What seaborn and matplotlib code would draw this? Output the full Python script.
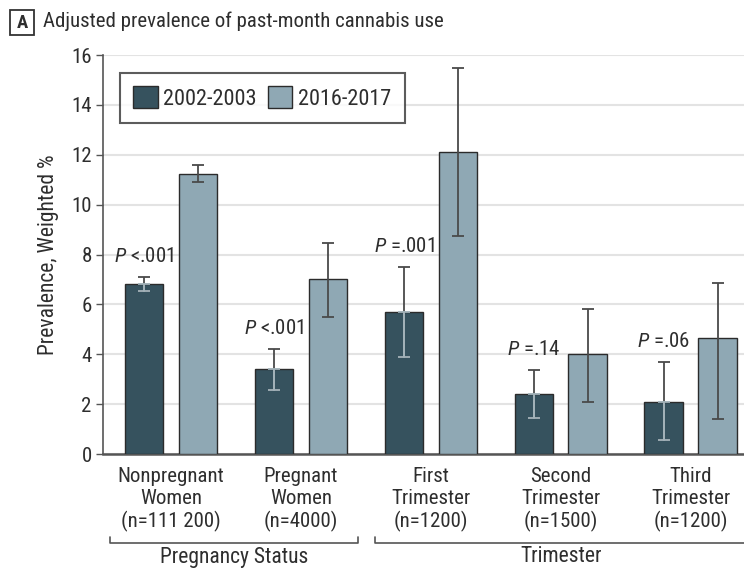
import pandas as pd
import seaborn as sns
import matplotlib.pyplot as plt
from matplotlib.patches import Rectangle

# Data
groups = ['Nonpregnant\nWomen\n(n=111 200)', 'Pregnant\nWomen\n(n=4000)',
          'First\nTrimester\n(n=1200)', 'Second\nTrimester\n(n=1500)',
          'Third\nTrimester\n(n=1200)']
periods = ['2002-2003', '2016-2017']
prev_2002 = [6.8, 3.4, 5.7, 2.4, 2.1]
lo_2002 = [6.55, 2.55, 3.9, 1.45, 0.55]
hi_2002 = [7.1, 4.2, 7.5, 3.35, 3.7]
prev_2016 = [11.25, 7.0, 12.1, 4.0, 4.65]
lo_2016 = [10.9, 5.5, 8.75, 2.1, 1.4]
hi_2016 = [11.6, 8.45, 15.5, 5.8, 6.85]
p_labels = ['<.001', '<.001', '=.001', '=.14', '=.06']
sections = ['Pregnancy Status', 'Trimester']

dark = '#36525e'
light = '#8fa8b4'
text_col = '#2e2e2e'

sns.set_style('white')
plt.rcParams['font.family'] = ['Roboto Condensed', 'Liberation Sans Narrow', 'Lato', 'DejaVu Sans']
plt.rcParams['mathtext.fontset'] = 'custom'
plt.rcParams['mathtext.it'] = 'Roboto Condensed:italic'
plt.rcParams['mathtext.rm'] = 'Roboto Condensed'

df = pd.DataFrame({
    'group': groups * 2,
    'period': [periods[0]] * 5 + [periods[1]] * 5,
    'value': prev_2002 + prev_2016,
})

fig = plt.figure(figsize=(7.44, 5.68), dpi=100)
ax = fig.add_axes([0.1384, 0.2007, 0.8616, 0.7023])

sns.barplot(data=df, x='group', y='value', hue='period', palette=[dark, light],
            saturation=1, width=0.83, gap=0.285, errorbar=None, edgecolor='#2b2b2b',
            linewidth=1.0, ax=ax, zorder=3)

# error bars
cap = 4.5
for i, (vals, los, his) in enumerate([(prev_2002, lo_2002, hi_2002),
                                       (prev_2016, lo_2016, hi_2016)]):
    bars = ax.containers[i]
    for bar, v, lo, hi in zip(bars, vals, los, his):
        xc = bar.get_x() + bar.get_width() / 2
        ax.errorbar(xc, v, yerr=[[v - lo], [hi - v]], fmt='none', ecolor='#4a4a4a',
                    elinewidth=1.3, capsize=cap, capthick=1.3, zorder=4)
        if i == 0:
            # portion inside the dark bar is drawn lighter
            ax.errorbar(xc, v, yerr=[[v - lo], [0]], fmt='none', ecolor='#a3b3ba',
                        elinewidth=1.3, capsize=cap, capthick=1.3, zorder=5)
            ax.plot([xc, xc], [lo, min(hi, v)], color='#a3b3ba', lw=1.3, zorder=5)
    if i == 0:
        for bar, hi, p in zip(bars, hi_2002, p_labels):
            xc = bar.get_x() + bar.get_width() / 2
            ax.text(xc, hi + 0.45, r'$\mathit{P}$ ' + p, ha='center', va='bottom',
                    fontsize=15, color=text_col, zorder=6)

ax.set_ylim(0, 16)
ax.set_xlim(-0.523, 4.41)
ax.set_yticks(range(0, 17, 2))
ax.yaxis.grid(True, color='#e3e3e3', lw=1.5, zorder=0)
ax.set_axisbelow(True)
ax.tick_params(axis='y', direction='out', length=5, width=1, color='#555555',
               labelsize=15, labelcolor=text_col, left=True, pad=3)
ax.tick_params(axis='x', length=0, labelsize=15, labelcolor=text_col, pad=9)
for s in ['top', 'right']:
    ax.spines[s].set_visible(False)
ax.spines['left'].set_color('#555555')
ax.spines['left'].set_linewidth(1.2)
ax.spines['bottom'].set_color('#555555')
ax.spines['bottom'].set_linewidth(1.8)
ax.set_xlabel('')
ax.set_ylabel('Prevalence, Weighted %', fontsize=15.5, color=text_col, labelpad=9)

leg = ax.legend(loc='upper left', bbox_to_anchor=(0.0265, 0.955), borderaxespad=0,
                ncol=2, frameon=True, fancybox=False, fontsize=16,
                handlelength=1.1, handleheight=1.1, columnspacing=0.5,
                handletextpad=0.25, borderpad=0.6)
leg.get_frame().set_edgecolor('#333333')
leg.get_frame().set_linewidth(1.5)
for h in leg.legend_handles:
    h.set_edgecolor('#2b2b2b')
for t in leg.get_texts():
    t.set_color(text_col)

# section brackets below the axis
trans = fig.transFigure
def fx(px):
    return px / 744
def fy(py):
    return 1 - py / 568
brackets = [(110, 358), (375, 746)]
for (x0, x1), name in zip(brackets, sections):
    fig.add_artist(plt.Line2D([fx(x0), fx(x0), fx(x1), fx(x1)],
                              [fy(537), fy(543), fy(543), fy(537)],
                              color='#555555', lw=1.2, transform=trans))
    fig.text(fx((x0 + min(x1, 744)) / 2 + (2 if name == 'Trimester' else 0)), fy(557), name,
             ha='center', va='center', fontsize=15.5, color=text_col)

# panel label
fig.add_artist(Rectangle((fx(10), fy(35)), fx(24), 25 / 568, fill=False,
                         edgecolor='#333333', lw=1.3, transform=trans))
fig.text(fx(22), fy(22.5), 'A', ha='center', va='center', fontsize=13.5,
         fontweight='bold', color=text_col)
fig.text(fx(43), fy(21), 'Adjusted prevalence of past-month cannabis use',
         ha='left', va='center', fontsize=15, color=text_col)

fig.savefig('out.png', dpi=100)
